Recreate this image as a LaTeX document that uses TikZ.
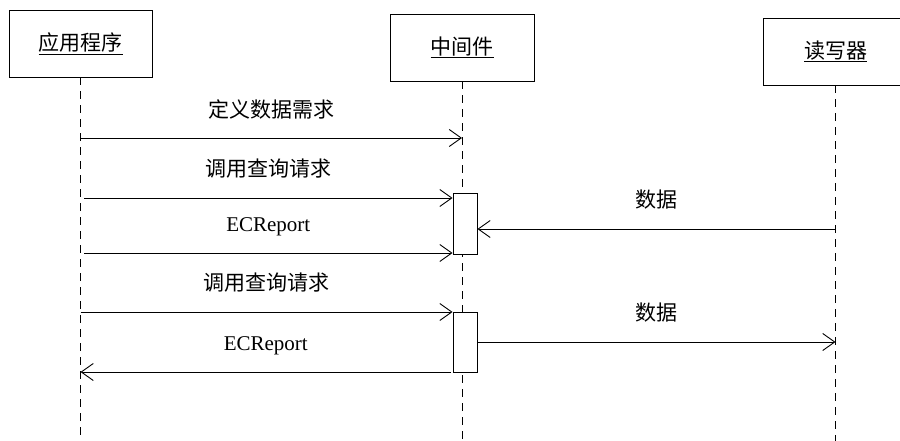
\documentclass[tikz,border=0pt]{standalone}
\usepackage{fontspec}
\setmainfont{Liberation Serif}
\newfontfamily\cjk{Noto Sans CJK SC}
\usepackage{tikz}
\usetikzlibrary{arrows.meta,calc}
\tikzstyle{obj_box} = [draw, line width=0.9pt, minimum width=144pt, minimum height=67pt, inner sep=0pt, font=\cjk\fontsize{21pt}{25pt}\selectfont]
\tikzstyle{act_box} = [draw, fill=white, line width=0.9pt, minimum width=24pt, inner sep=0pt]
\tikzstyle{life_line} = [line width=0.9pt, dash pattern=on 8pt off 6pt]
\tikzstyle{msg_arrow} = [line width=0.9pt, -{Straight Barb[length=12pt,width=17pt,line width=0.9pt]}]
\tikzstyle{msg_label} = [midway, yshift=29pt, inner sep=0pt, font=\cjk\fontsize{21pt}{25pt}\selectfont]
\tikzstyle{msg_label_lat} = [msg_label, yshift=-3pt, font=\rmfamily\fontsize{21pt}{25pt}\selectfont]

\begin{document}
\begin{tikzpicture}[x=1pt,y=-1pt]
\useasboundingbox (0,0) rectangle (900,441);
% objects
\node (App) at (80.5,43.5) [obj_box, minimum width=143pt] {\underline{应用程序}};
\node (Mid) at (462,47.5) [obj_box] {\underline{中间件}};
\node (Rdr) at (835.5,51.5) [obj_box] {\underline{读写器}};
% lifelines
\coordinate (AppEnd) at (App.south |- 0,441);
\coordinate (MidEnd) at (Mid.south |- 0,441);
\coordinate (RdrEnd) at (Rdr.south |- 0,441);
\draw[life_line] (App.south) -- (AppEnd);
\draw[life_line] (Mid.south) -- (MidEnd);
\draw[life_line] (Rdr.south) -- (RdrEnd);
% activations
\node (Act1) at (465,223.5) [act_box, minimum height=61pt] {};
\node (Act2) at (465,342) [act_box, minimum height=60pt] {};
% messages
\coordinate (M1a) at (App.south |- 0,138);
\coordinate (M1b) at (Mid.south |- 0,138);
\coordinate (M2a) at (84,198);
\coordinate (M3a) at (84,253);
\coordinate (M4a) at (Rdr.south |- 0,229);
\coordinate (M5a) at (App.south |- 0,312);
\coordinate (M6b) at (Rdr.south |- 0,342);
\coordinate (M7a) at (451,372);
\coordinate (M7b) at (App.south |- 0,372);

\draw[msg_arrow] (M1a) -- (M1b) node[msg_label] {定义数据需求};
\draw[msg_arrow] (M2a) -- (M2a -| Act1.west) node[msg_label] {调用查询请求};
\draw[msg_arrow] (M3a) -- (M3a -| Act1.west) node[msg_label_lat] {ECReport};
\draw[msg_arrow] (M4a) -- (M4a -| Act1.east) node[msg_label] {数据};
\draw[msg_arrow] (M5a) -- (M5a -| Act2.west) node[msg_label] {调用查询请求};
\draw[msg_arrow] (M6b -| Act2.east) -- (M6b) node[msg_label] {数据};
\draw[msg_arrow] (M7a) -- (M7b) node[msg_label_lat] {ECReport};
\end{tikzpicture}
\end{document}
